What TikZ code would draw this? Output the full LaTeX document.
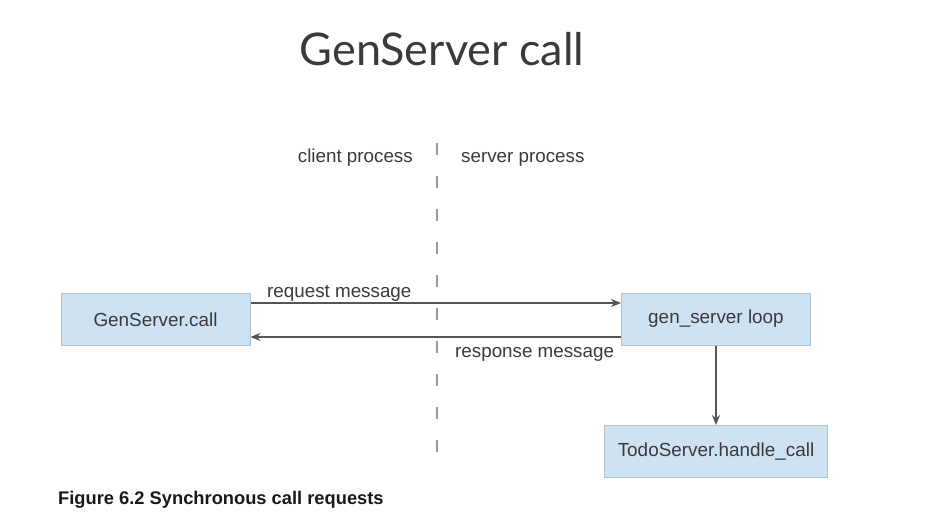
\documentclass[tikz,border=0pt]{standalone}
\usepackage{fontspec}
\setmainfont{Liberation Sans}
\newfontfamily\titlefont{Lato}
\usetikzlibrary{arrows.meta}
\definecolor{boxfill}{HTML}{CFE2F3}
\definecolor{boxline}{HTML}{AFC0D0}
\definecolor{txt}{HTML}{3A3A3A}
\definecolor{arrcol}{HTML}{555555}
\definecolor{sepcol}{HTML}{9A9A9A}
\tikzset{
  procbox/.style={draw=boxline, line width=1pt, fill=boxfill, minimum width=189pt, minimum height=52pt, inner sep=0pt, font=\fontsize{18.9}{22}\selectfont, text=txt},
  lbl/.style={font=\fontsize{18.8}{22}\selectfont, text=txt, inner sep=0pt},
  msg/.style={draw=arrcol, line width=1.3pt, -{Stealth[length=10pt,width=8pt]}},
}
\begin{document}
\begin{tikzpicture}[x=1pt,y=-1pt]
\useasboundingbox[fill=white] (0,0) rectangle (940,524);
% title
\node[font=\titlefont\fontsize{45}{50}\selectfont, text=txt, anchor=base, inner sep=0pt] (title) at (442,66) {GenServer call};
% dashed separator
\coordinate (dtop) at (437,143);
\coordinate (dbot) at (437,462);
\draw[draw=sepcol, line width=1.6pt, dash pattern=on 12pt off 21pt] (dtop) -- (dbot);
% lane labels
\node[lbl, anchor=base east] (client) at (413,163) {client process};
\node[lbl, anchor=base west] (server) at (461,163) {server process};
% boxes
\node[procbox] (call) at (155.5,319.5) {GenServer.call};
\node[procbox] (loop) at (716,319) {gen\_server loop};
\node[procbox, minimum width=223pt] (todo) at (716,451.5) {TodoServer.handle\_call};
% arrows
\draw[msg] (call.east |- 0,303) -- (loop.west |- 0,303);
\draw[msg] (loop.west |- 0,337) -- (call.east |- 0,337);
\draw[msg] (loop.south) -- (todo.north);
% message labels
\node[lbl, anchor=base west] (req) at (267,297) {request message};
\node[lbl, anchor=base west] (resp) at (455,357) {response message};
% caption
\node[font=\bfseries\fontsize{18.3}{22}\selectfont, text=black!90, anchor=base west, inner sep=0pt] (cap) at (58,504) {Figure 6.2 Synchronous call requests};
\end{tikzpicture}
\end{document}
